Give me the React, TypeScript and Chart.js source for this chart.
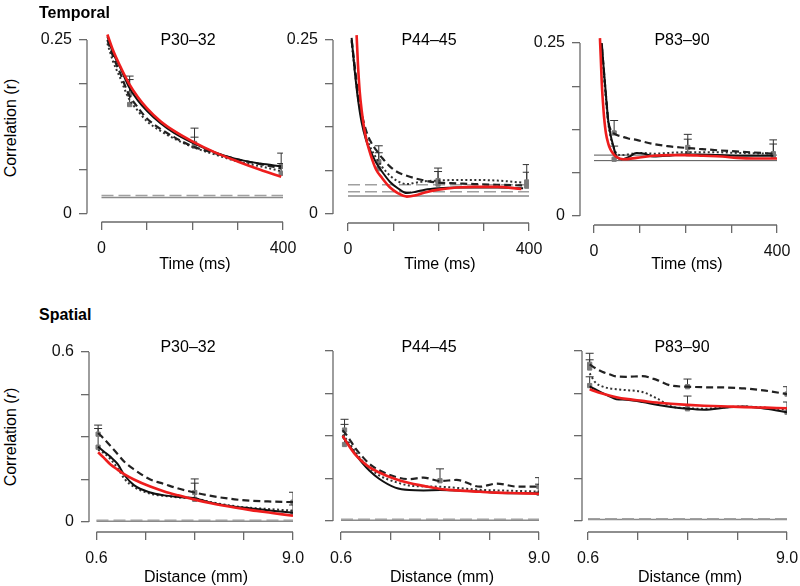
import React, { useEffect, useRef } from 'react';
import { Chart, registerables } from 'chart.js';
Chart.register(...registerables);

const FONT = '"Liberation Sans", Arial, Helvetica, sans-serif';

// ---------------- tick definitions ----------------
const panelTitles = ['P30–32', 'P44–45', 'P83–90'];
const timeTicks = [0, 100, 200, 300, 400];
const timeTickLabels = ['0', '', '', '', '400'];
const tempYTicks = [0, 0.0625, 0.125, 0.1875, 0.25];
const tempYLabels = ['0', '', '', '', '0.25'];
const distTicks = [0.6, 2.7, 4.8, 6.9, 9.0];
const distTickLabels = ['0.6', '', '', '', '9.0'];
const spatYTicks = [0, 0.15, 0.3, 0.45, 0.6];
const spatYLabels = ['0', '', '', '', '0.6'];
const spatYLabelsBlank = ['', '', '', '', ''];

// ---------------- Temporal P30–32 ----------------
const t1X = [13, 25, 40, 60, 80, 100, 130, 160, 200, 250, 300, 350, 396];
const t1Solid = [0.255, 0.232, 0.212, 0.183, 0.163, 0.148, 0.130, 0.116, 0.102, 0.088, 0.078, 0.072, 0.068];
const t1Dashed = [0.250, 0.227, 0.204, 0.172, 0.153, 0.137, 0.122, 0.110, 0.097, 0.087, 0.078, 0.071, 0.065];
const t1Dotted = [0.245, 0.220, 0.197, 0.166, 0.148, 0.133, 0.119, 0.108, 0.096, 0.085, 0.075, 0.068, 0.061];
const t1FitX = [13, 25, 40, 60, 80, 100, 130, 160, 200, 250, 300, 350, 396];
const t1Fit = [0.258, 0.236, 0.214, 0.188, 0.168, 0.152, 0.133, 0.119, 0.104, 0.088, 0.075, 0.063, 0.053];
const t1ErrX = [62, 62, 205, 205, 396, 396];
const t1ErrMean = [0.172, 0.157, 0.101, 0.097, 0.068, 0.058];
const t1ErrTop = [0.198, 0.193, 0.123, 0.110, 0.087, 0.072];
const t1BaseDashed = [0.026];
const t1BaseSolid = [0.023];

// ---------------- Temporal P44–45 ----------------
const t2X = [8, 15, 22, 30, 40, 50, 62, 75, 93, 110, 130, 150, 170, 200, 240, 280, 330, 387];
const t2Solid = [0.253, 0.205, 0.165, 0.132, 0.106, 0.090, 0.074, 0.061, 0.046, 0.037, 0.030, 0.032, 0.035, 0.037, 0.038, 0.038, 0.038, 0.037];
const t2Dashed = [0.250, 0.212, 0.175, 0.145, 0.120, 0.104, 0.092, 0.081, 0.068, 0.060, 0.055, 0.051, 0.048, 0.045, 0.044, 0.043, 0.042, 0.041];
const t2Dotted = [0.248, 0.205, 0.168, 0.138, 0.112, 0.095, 0.081, 0.068, 0.055, 0.047, 0.043, 0.045, 0.047, 0.048, 0.049, 0.049, 0.048, 0.045];
const t2FitX = [19, 22, 26, 30, 36, 42, 50, 62, 75, 93, 110, 130, 150, 170, 200, 240, 280, 330, 383];
const t2Fit = [0.257, 0.215, 0.175, 0.150, 0.122, 0.103, 0.085, 0.064, 0.052, 0.038, 0.030, 0.025, 0.027, 0.031, 0.035, 0.038, 0.039, 0.039, 0.036];
const t2ErrX = [68, 68, 199, 199, 395, 395];
const t2ErrMean = [0.075, 0.065, 0.048, 0.043, 0.046, 0.040];
const t2ErrTop = [0.098, 0.088, 0.066, 0.061, 0.071, 0.060];
const t2BaseDashed = [0.042, 0.032];
const t2BaseSolid = [0.026];

// ---------------- Temporal P83–90 ----------------
const t3X = [17, 21, 24, 28, 31, 36, 42, 50, 60, 75, 93, 110, 130, 160, 190, 230, 270, 320, 392];
const t3Solid = [0.250, 0.215, 0.192, 0.160, 0.139, 0.118, 0.102, 0.085, 0.082, 0.085, 0.091, 0.090, 0.086, 0.087, 0.089, 0.089, 0.088, 0.087, 0.087];
const t3Dashed = [0.245, 0.215, 0.190, 0.160, 0.138, 0.125, 0.120, 0.117, 0.115, 0.112, 0.110, 0.107, 0.104, 0.101, 0.099, 0.097, 0.095, 0.093, 0.090];
const t3Dotted = [0.248, 0.210, 0.185, 0.155, 0.135, 0.115, 0.100, 0.090, 0.088, 0.089, 0.091, 0.091, 0.090, 0.091, 0.092, 0.092, 0.092, 0.091, 0.090];
const t3FitX = [13, 15, 17, 20, 22, 26, 31, 36, 42, 50, 64, 93, 130, 166, 200, 239, 280, 312, 350, 400];
const t3Fit = [0.257, 0.225, 0.192, 0.160, 0.143, 0.120, 0.105, 0.096, 0.090, 0.085, 0.082, 0.084, 0.087, 0.088, 0.088, 0.087, 0.086, 0.084, 0.083, 0.083];
const t3ErrX = [44, 44, 205, 205, 392, 392];
const t3ErrMean = [0.120, 0.082, 0.099, 0.090, 0.090, 0.087];
const t3ErrTop = [0.138, 0.101, 0.118, 0.111, 0.110, 0.104];
const t3BaseThin = [0.088, 0.080];

// ---------------- Spatial (shared distances) ----------------
const sX = [0.67, 0.9, 1.2, 1.5, 1.8, 2.2, 2.9, 3.5, 4.1, 4.8, 5.5, 6.5, 7.2, 8.1, 9.0];

// Spatial P30–32
const s1Solid = [0.266, 0.250, 0.230, 0.205, 0.165, 0.130, 0.104, 0.094, 0.088, 0.084, 0.068, 0.054, 0.048, 0.040, 0.033];
const s1Dashed = [0.314, 0.295, 0.268, 0.240, 0.212, 0.186, 0.150, 0.134, 0.118, 0.104, 0.092, 0.080, 0.075, 0.072, 0.070];
const s1Dotted = [0.255, 0.244, 0.222, 0.190, 0.152, 0.124, 0.100, 0.092, 0.087, 0.083, 0.070, 0.056, 0.050, 0.045, 0.040];
const s1Fit = [0.246, 0.228, 0.203, 0.185, 0.168, 0.150, 0.125, 0.108, 0.094, 0.079, 0.066, 0.051, 0.042, 0.032, 0.022];
const s1ErrX = [0.67, 0.67, 4.8, 4.8, 9.0, 9.0];
const s1ErrMean = [0.310, 0.264, 0.104, 0.080, 0.070, 0.034];
const s1ErrTop = [0.342, 0.330, 0.152, 0.137, 0.105, 0.060];
const s1BaseDashed = [0.006];
const s1BaseSolid = [0.003];

// Spatial P44–45
const s2Solid = [0.297, 0.272, 0.238, 0.205, 0.178, 0.150, 0.118, 0.109, 0.108, 0.109, 0.108, 0.104, 0.100, 0.098, 0.098];
const s2Dashed = [0.321, 0.296, 0.258, 0.228, 0.202, 0.180, 0.156, 0.148, 0.153, 0.141, 0.145, 0.121, 0.132, 0.121, 0.121];
const s2Dotted = [0.305, 0.280, 0.245, 0.213, 0.188, 0.162, 0.138, 0.125, 0.122, 0.121, 0.117, 0.110, 0.108, 0.106, 0.104];
const s2Fit = [0.301, 0.270, 0.235, 0.210, 0.190, 0.172, 0.148, 0.134, 0.124, 0.113, 0.108, 0.103, 0.100, 0.098, 0.096];
const s2ErrX = [0.75, 0.75, 4.8, 9.0, 9.0];
const s2ErrMean = [0.321, 0.270, 0.142, 0.121, 0.098];
const s2ErrTop = [0.359, 0.341, 0.184, 0.153, 0.130];
const s2BaseDashed = [0.006];
const s2BaseSolid = [0.003];

// Spatial P83–90
const s3Solid = [0.475, 0.465, 0.452, 0.440, 0.430, 0.428, 0.420, 0.410, 0.402, 0.396, 0.393, 0.401, 0.404, 0.396, 0.384];
const s3Dashed = [0.553, 0.540, 0.527, 0.518, 0.510, 0.509, 0.511, 0.498, 0.478, 0.474, 0.472, 0.471, 0.468, 0.460, 0.448];
const s3Dotted = [0.521, 0.490, 0.475, 0.468, 0.465, 0.462, 0.455, 0.433, 0.405, 0.398, 0.396, 0.402, 0.404, 0.400, 0.392];
const s3Fit = [0.465, 0.458, 0.450, 0.443, 0.437, 0.431, 0.424, 0.418, 0.414, 0.410, 0.407, 0.404, 0.402, 0.400, 0.398];
const s3ErrX = [0.67, 0.67, 0.67, 4.8, 4.8, 9.0, 9.0];
const s3ErrMean = [0.553, 0.540, 0.478, 0.474, 0.396, 0.448, 0.384];
const s3ErrTop = [0.592, 0.569, 0.509, 0.501, 0.441, 0.474, 0.420];
const s3BaseDashed = [0.008];
const s3BaseSolid = [0.005];

// ---------------- panel layout ----------------
const AXIS_COLOR = '#6a6a6a';
const RED = '#ee1d1d';

const temporalBase = { xr: [0, 400], yTop: 0.25, xTicks: timeTicks, xLabels: timeTickLabels, yTicks: tempYTicks, yLabels: tempYLabels };

const panels: any[] = [
  { ...temporalBase, geo: { axisX: 87, x0px: 101.5, x1px: 283, y1py: 40, y0py: 213.5, axisY: 222 },
    x: t1X, solid: t1Solid, dashed: t1Dashed, dotted: t1Dotted, fitX: t1FitX, fit: t1Fit,
    errX: t1ErrX, errMean: t1ErrMean, errTop: t1ErrTop, baseDashed: t1BaseDashed, baseSolid: t1BaseSolid, baseThin: [] },
  { ...temporalBase, geo: { axisX: 333, x0px: 348, x1px: 529, y1py: 40, y0py: 214, axisY: 223 },
    x: t2X, solid: t2Solid, dashed: t2Dashed, dotted: t2Dotted, fitX: t2FitX, fit: t2Fit,
    errX: t2ErrX, errMean: t2ErrMean, errTop: t2ErrTop, baseDashed: t2BaseDashed, baseSolid: t2BaseSolid, baseThin: [] },
  { ...temporalBase, geo: { axisX: 580, x0px: 594, x1px: 777, y1py: 43, y0py: 216, axisY: 225 },
    x: t3X, solid: t3Solid, dashed: t3Dashed, dotted: t3Dotted, fitX: t3FitX, fit: t3Fit,
    errX: t3ErrX, errMean: t3ErrMean, errTop: t3ErrTop, baseDashed: [], baseSolid: [], baseThin: t3BaseThin },
  { xr: [0.6, 9.0], yTop: 0.6, xTicks: distTicks, xLabels: distTickLabels, yTicks: spatYTicks, yLabels: spatYLabels,
    geo: { axisX: 88.5, x0px: 96, x1px: 293, y1py: 352, y0py: 522, axisY: 532 },
    x: sX, solid: s1Solid, dashed: s1Dashed, dotted: s1Dotted, fitX: sX, fit: s1Fit,
    errX: s1ErrX, errMean: s1ErrMean, errTop: s1ErrTop, baseDashed: s1BaseDashed, baseSolid: s1BaseSolid, baseThin: [] },
  { xr: [0.6, 9.0], yTop: 0.6, xTicks: distTicks, xLabels: distTickLabels, yTicks: spatYTicks, yLabels: spatYLabelsBlank,
    geo: { axisX: 333, x0px: 341, x1px: 539, y1py: 351, y0py: 521, axisY: 532 },
    x: sX, solid: s2Solid, dashed: s2Dashed, dotted: s2Dotted, fitX: sX, fit: s2Fit,
    errX: s2ErrX, errMean: s2ErrMean, errTop: s2ErrTop, baseDashed: s2BaseDashed, baseSolid: s2BaseSolid, baseThin: [] },
  { xr: [0.6, 9.0], yTop: 0.6, xTicks: distTicks, xLabels: distTickLabels, yTicks: spatYTicks, yLabels: spatYLabelsBlank,
    geo: { axisX: 582, x0px: 588, x1px: 787, y1py: 351, y0py: 521, axisY: 532 },
    x: sX, solid: s3Solid, dashed: s3Dashed, dotted: s3Dotted, fitX: sX, fit: s3Fit,
    errX: s3ErrX, errMean: s3ErrMean, errTop: s3ErrTop, baseDashed: s3BaseDashed, baseSolid: s3BaseSolid, baseThin: [] },
];

const pts = (xs: number[], ys: number[]) => xs.map((x, i) => ({ x, y: ys[i] }));

const rAxesPlugin = {
  id: 'rAxes',
  afterDraw(chart: any, _args: any, opts: any) {
    const { ctx, chartArea } = chart;
    const xs = chart.scales.x;
    const ys = chart.scales.y;
    ctx.save();
    ctx.strokeStyle = AXIS_COLOR;
    ctx.lineWidth = 1.3;
    ctx.beginPath();
    ctx.moveTo(chartArea.left, ys.getPixelForValue(opts.yTop));
    ctx.lineTo(chartArea.left, ys.getPixelForValue(0));
    ctx.moveTo(xs.getPixelForValue(opts.xMin), chartArea.bottom);
    ctx.lineTo(xs.getPixelForValue(opts.xMax), chartArea.bottom);
    ctx.stroke();
    ctx.restore();
  },
};

function canvasRect(p: any) {
  const g = p.geo;
  const left = g.axisX - 62;
  const top = g.y1py - 25;
  const right = Math.min(g.x1px + 20, 800);
  const bottom = g.axisY + 40;
  return { left, top, width: right - left, height: bottom - top };
}

function makeConfig(p: any) {
  const g = p.geo;
  const r = canvasRect(p);
  const areaTop = g.y1py - 9;
  const [x0, x1] = p.xr;
  const xPer = (x1 - x0) / (g.x1px - g.x0px);
  const xMinScale = x0 - (g.x0px - g.axisX) * xPer;
  const yPer = p.yTop / (g.y0py - g.y1py);
  const yMinScale = -(g.axisY - g.y0py) * yPer;
  const yMaxScale = p.yTop + (g.y1py - areaTop) * yPer;
  const Wy = g.axisX - r.left;
  const Hx = r.top + r.height - g.axisY;
  const padTop = areaTop - r.top;
  const padRight = r.left + r.width - g.x1px;

  const datasets: any[] = [];
  datasets.push({ data: pts(p.fitX, p.fit), borderColor: RED, borderWidth: 2.6, pointRadius: 0, cubicInterpolationMode: 'monotone' });
  datasets.push({ data: pts(p.x, p.solid), borderColor: '#111', borderWidth: 2, pointRadius: 0, cubicInterpolationMode: 'monotone' });
  datasets.push({ data: pts(p.x, p.dashed), borderColor: '#222', borderWidth: 2.2, borderDash: [7, 4], pointRadius: 0, cubicInterpolationMode: 'monotone' });
  datasets.push({ data: pts(p.x, p.dotted), borderColor: '#333', borderWidth: 2, borderDash: [2, 2.5], pointRadius: 0, cubicInterpolationMode: 'monotone' });
  const errData: any[] = [];
  p.errX.forEach((x: number, i: number) => {
    errData.push({ x, y: p.errMean[i] });
    errData.push({ x, y: p.errTop[i] });
    errData.push({ x, y: null });
  });
  datasets.push({
    data: errData, borderColor: '#333', borderWidth: 1, spanGaps: false, tension: 0,
    pointStyle: (c: any) => (c.index % 3 === 0 ? 'rect' : 'line'),
    pointRadius: (c: any) => (c.index % 3 === 0 ? 3 : 4),
    pointBackgroundColor: '#7a7a7a',
    pointBorderColor: (c: any) => (c.index % 3 === 0 ? '#7a7a7a' : '#333'),
    pointBorderWidth: 1,
  });
  p.baseDashed.forEach((v: number) => datasets.push({ data: [{ x: x0, y: v }, { x: x1, y: v }], borderColor: '#a0a0a0', borderWidth: 1.5, borderDash: [12, 5], pointRadius: 0 }));
  p.baseSolid.forEach((v: number) => datasets.push({ data: [{ x: x0, y: v }, { x: x1, y: v }], borderColor: '#8a8a8a', borderWidth: 1.5, pointRadius: 0 }));
  p.baseThin.forEach((v: number) => datasets.push({ data: [{ x: x0, y: v }, { x: x1, y: v }], borderColor: '#555', borderWidth: 1, pointRadius: 0 }));

  const tickFont = { size: 16, family: FONT };
  return {
    type: 'line',
    data: { datasets },
    plugins: [rAxesPlugin],
    options: {
      responsive: false,
      devicePixelRatio: 1,
      animation: false,
      layout: { padding: { top: padTop, right: padRight, left: 0, bottom: 0 } },
      plugins: { legend: { display: false }, tooltip: { enabled: false }, rAxes: { xMin: x0, xMax: x1, yTop: p.yTop } },
      scales: {
        x: {
          type: 'linear', min: xMinScale, max: x1, bounds: 'data',
          afterBuildTicks: (s: any) => { s.ticks = p.xTicks.map((v: number) => ({ value: v })); },
          afterFit: (s: any) => { s.height = Hx; s.paddingLeft = 0; s.paddingRight = 0; },
          ticks: { callback: (_v: any, i: number) => p.xLabels[i], autoSkip: false, maxRotation: 0, minRotation: 0, padding: 9, color: '#111', font: tickFont },
          grid: { drawOnChartArea: false, drawTicks: true, tickLength: 8, color: AXIS_COLOR, lineWidth: 1.3 },
          border: { display: false },
        },
        y: {
          type: 'linear', min: yMinScale, max: yMaxScale, bounds: 'data',
          afterBuildTicks: (s: any) => { s.ticks = p.yTicks.map((v: number) => ({ value: v })); },
          afterFit: (s: any) => { s.width = Wy; s.paddingTop = 0; s.paddingBottom = 0; },
          ticks: { callback: (_v: any, i: number) => p.yLabels[i], autoSkip: false, padding: 7, color: '#111', font: tickFont },
          grid: { drawOnChartArea: false, drawTicks: true, tickLength: 8, color: AXIS_COLOR, lineWidth: 1.3 },
          border: { display: false },
        },
      },
    },
  };
}

function Panel({ p }: { p: any }) {
  const ref = useRef<HTMLCanvasElement | null>(null);
  const r = canvasRect(p);
  useEffect(() => {
    const chart = new Chart(ref.current as HTMLCanvasElement, makeConfig(p) as any);
    return () => chart.destroy();
  }, []);
  return (
    <canvas ref={ref} width={r.width} height={r.height}
      style={{ position: 'absolute', left: r.left, top: r.top, width: r.width, height: r.height }} />
  );
}

function Label({ x, y, children, bold, rotate }: any) {
  return (
    <div style={{
      position: 'absolute', left: x, top: y, whiteSpace: 'nowrap', fontFamily: FONT, fontSize: 16,
      lineHeight: 1, color: '#000', fontWeight: bold ? 'bold' : 'normal',
      transform: `translate(-50%, -50%)${rotate ? ' rotate(-90deg)' : ''}`,
    }}>{children}</div>
  );
}

export default function App() {
  const titleCenters = [188, 429, 682];
  const timeCenters = [195, 440, 687];
  const distCenters = [196, 442, 690];
  return (
    <div style={{ position: 'absolute', left: 0, top: 0, width: 800, height: 586, overflow: 'hidden', background: '#fff' }}>
      {panels.map((p, i) => <Panel key={i} p={p} />)}
      <div style={{ position: 'absolute', left: 39, top: 5, fontFamily: FONT, fontSize: 16, fontWeight: 'bold', lineHeight: 1 }}>Temporal</div>
      <div style={{ position: 'absolute', left: 39, top: 307, fontFamily: FONT, fontSize: 16, fontWeight: 'bold', lineHeight: 1 }}>Spatial</div>
      <Label x={11} y={128} rotate>Correlation (r)</Label>
      <Label x={11} y={437} rotate>Correlation (<i>r</i>)</Label>
      {panelTitles.map((t, i) => <Label key={'a' + i} x={titleCenters[i]} y={40}>{t}</Label>)}
      {panelTitles.map((t, i) => <Label key={'b' + i} x={titleCenters[i]} y={347}>{t}</Label>)}
      {timeCenters.map((c, i) => <Label key={'c' + i} x={c} y={264}>Time (ms)</Label>)}
      {distCenters.map((c, i) => <Label key={'d' + i} x={c} y={577}>Distance (mm)</Label>)}
    </div>
  );
}
